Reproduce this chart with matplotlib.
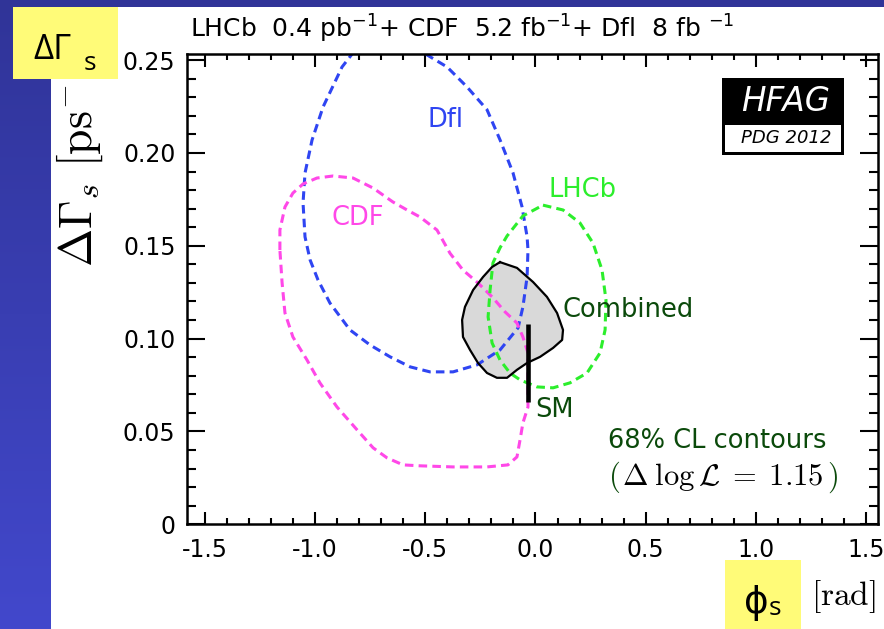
import numpy as np
import matplotlib
matplotlib.use("Agg")
import matplotlib.pyplot as plt
from matplotlib.patches import Rectangle, Polygon
from matplotlib.ticker import MultipleLocator, FixedLocator, FixedFormatter

plt.rcParams['font.family'] = ['DejaVu Sans']
plt.rcParams['axes.unicode_minus'] = False
plt.rcParams['mathtext.fontset'] = 'dejavusans'

# ---- data (phi_s in rad, DeltaGamma_s in ps^-1) ----
dfi_phi = [-0.787, -0.833, -0.878, -0.964, -1.014, -1.046, -1.055, -1.046, -1.023,
           -0.987, -0.933, -0.842, -0.751, -0.660, -0.569, -0.479, -0.374, -0.265,
           -0.161, -0.079, -0.057, -0.038, -0.034, -0.038, -0.061, -0.102, -0.161,
           -0.220, -0.311, -0.401, -0.492, -0.538]
dfi_dg = [0.261, 0.2532, 0.2463, 0.2248, 0.207, 0.1892, 0.1731, 0.1548, 0.1424,
          0.1316, 0.1192, 0.1047, 0.0966, 0.0902, 0.0848, 0.0821, 0.0821, 0.0859,
          0.0939, 0.1058, 0.1171, 0.1333, 0.1478, 0.1548, 0.1710, 0.1893, 0.2071,
          0.2233, 0.2356, 0.2463, 0.2528, 0.2582]

cdf_phi = [-1.160, -1.160, -1.137, -1.101, -1.055, -0.992, -0.919, -0.828, -0.737,
           -0.647, -0.583, -0.524, -0.447, -0.388, -0.329, -0.261, -0.197, -0.138,
           -0.084, -0.057, -0.034, -0.034, -0.034, -0.057, -0.070, -0.084, -0.125,
           -0.220, -0.374, -0.524, -0.601, -0.674, -0.737, -0.810, -0.901, -0.978,
           -1.037, -1.101, -1.137, -1.150]
cdf_dg = [0.1477, 0.1585, 0.1709, 0.1784, 0.1833, 0.1865, 0.1876, 0.1865, 0.1811,
          0.1736, 0.1693, 0.1655, 0.1585, 0.1460, 0.1369, 0.1300, 0.1225, 0.1144,
          0.1084, 0.1009, 0.0923, 0.0794, 0.0632, 0.0546, 0.0455, 0.0363, 0.0320,
          0.0309, 0.0309, 0.0315, 0.0320, 0.0358, 0.0412, 0.0509, 0.0632, 0.0761,
          0.0885, 0.1009, 0.1138, 0.1300]

lhcb_phi = [0.034, 0.125, 0.202, 0.261, 0.302, 0.320, 0.316, 0.293, 0.234, 0.157,
            0.080, 0.007, -0.070, -0.116, -0.161, -0.197, -0.215, -0.206, -0.193,
            -0.161, -0.129, -0.057]
lhcb_dg = [0.1719, 0.1693, 0.1623, 0.1515, 0.1370, 0.1208, 0.1047, 0.0923, 0.0815,
           0.0762, 0.0735, 0.0740, 0.0778, 0.0815, 0.0885, 0.0977, 0.1117, 0.1262,
           0.1408, 0.1489, 0.1553, 0.1661]

comb_phi = [-0.161, -0.084, -0.011, 0.052, 0.098, 0.125, 0.121, 0.080, 0.021, -0.038,
            -0.084, -0.129, -0.175, -0.220, -0.261, -0.297, -0.329, -0.333, -0.320,
            -0.283, -0.238, -0.197]
comb_dg = [0.1412, 0.1381, 0.1305, 0.1225, 0.1138, 0.1047, 0.0993, 0.0950, 0.0902,
           0.0869, 0.0832, 0.0789, 0.0789, 0.0815, 0.0869, 0.0939, 0.1009, 0.1101,
           0.1171, 0.1262, 0.1332, 0.1386]

sm_phi = -0.036
sm_dg = 0.087
sm_err = 0.021

xticks = [-1.5, -1.0, -0.5, 0.0, 0.5, 1.0, 1.5]
xticklabels = ['-1.5', '-1.0', '-0.5', '0.0', '0.5', '1.0', '1.5']
yticks = [0, 0.05, 0.10, 0.15, 0.20, 0.25]
yticklabels = ['0', '0.05', '0.10', '0.15', '0.20', '0.25']

# ---- colours ----
c_blue = '#2f45f2'
c_mag = '#ff48e8'
c_green = '#2cee2c'
c_dark = '#0b4a0b'
c_yellow = '#fffb78'

W, H = 884, 629
fig = plt.figure(figsize=(W / 100, H / 100), dpi=100)

# background: slide with blue strip on the left and top
bg = fig.add_axes([0, 0, 1, 1], zorder=-10)
img = np.ones((H, W, 3))
t = np.linspace(0, 1, H)[:, None]
top = np.array([48, 52, 152]) / 255.0
bot = np.array([66, 72, 204]) / 255.0
grad = top * (1 - t) + bot * t
img[:, :51, :] = grad[:, None, :]
img[:7, :, :] = grad[:7, None, :]
bg.imshow(img, extent=(0, W, H, 0), aspect='auto', interpolation='nearest')
bg.set_xlim(0, W)
bg.set_ylim(H, 0)
bg.axis('off')

bg.text(190, 38, r'LHCb  0.4 pb$^{-1}$+ CDF  5.2 fb$^{-1}$+ Dfl  8 fb $^{-1}$',
        fontsize=18, ha='left', va='baseline')
# y title: its upper end is hidden behind the yellow box on the slide
bg.text(80, 267, r'$\Delta\Gamma_s\ [\mathrm{ps}^{-}$', math_fontfamily='cm',
        fontsize=33, rotation=90, ha='center', va='bottom')
bg.text(811, 597, r'$\mathrm{[rad]}$', math_fontfamily='cm', fontsize=24,
        ha='left', va='center')

# main axes
ax = fig.add_axes([186.7 / W, 1 - 524.3 / H, (878.3 - 186.7) / W, (524.3 - 54) / H])
ax.set_xlim(-1.583, 1.556)
ax.set_ylim(0, 0.2533)

ax.add_patch(Polygon(np.column_stack([comb_phi, comb_dg]), closed=True,
                     facecolor='#d9d9d9', edgecolor='none', zorder=1))
dash = (0, (2.8, 1.7))
ax.plot(dfi_phi, dfi_dg, color=c_blue, lw=2.2, ls=dash, zorder=2)
ax.plot(cdf_phi + cdf_phi[:1], cdf_dg + cdf_dg[:1], color=c_mag, lw=2.2, ls=dash, zorder=2)
ax.plot(lhcb_phi + lhcb_phi[:1], lhcb_dg + lhcb_dg[:1], color=c_green, lw=2.2, ls=dash, zorder=2)
ax.plot(comb_phi + comb_phi[:1], comb_dg + comb_dg[:1], color='black', lw=1.6,
        solid_joinstyle='round', zorder=3)
ax.plot([sm_phi, sm_phi], [sm_dg - sm_err, sm_dg + sm_err], color='black', lw=3.3,
        solid_capstyle='butt', zorder=4)

ax.text(-0.488, 0.2141, 'Dfl', color=c_blue, fontsize=18.5, va='baseline')
ax.text(-0.924, 0.1612, 'CDF', color=c_mag, fontsize=18.5, va='baseline')
ax.text(0.057, 0.1763, 'LHCb', color=c_green, fontsize=18.5, va='baseline')
ax.text(0.1205, 0.1116, 'Combined', color=c_dark, fontsize=18.5, va='baseline')
ax.text(-0.002, 0.0578, 'SM', color=c_dark, fontsize=18.5, va='baseline')
ax.text(0.329, 0.0411, '68% CL contours', color=c_dark, fontsize=18.5, va='baseline')
ax.text(0.329, 0.0212, r'$($', color=c_dark, math_fontfamily='cm', fontsize=22, va='baseline')
ax.text(0.393, 0.0212, r'$\Delta\;\log\mathcal{L}\;=\;1.15$', color='black',
        math_fontfamily='cm', fontsize=22, va='baseline')
ax.text(1.372, 0.0212, r'$)$', color=c_dark, math_fontfamily='cm', fontsize=22,
        va='baseline', ha='right')

ax.xaxis.set_major_locator(FixedLocator(xticks))
ax.xaxis.set_major_formatter(FixedFormatter(xticklabels))
ax.xaxis.set_minor_locator(MultipleLocator(0.1))
ax.yaxis.set_major_locator(FixedLocator(yticks))
ax.yaxis.set_major_formatter(FixedFormatter(yticklabels))
ax.yaxis.set_minor_locator(MultipleLocator(0.01))
ax.tick_params(which='both', direction='in', top=True, right=True, width=1.5,
               labelsize=17)
ax.tick_params(axis='x', which='major', length=9, pad=10)
ax.tick_params(axis='x', which='minor', length=4.5)
ax.tick_params(axis='y', which='major', length=13, pad=8)
ax.tick_params(axis='y', which='minor', length=6.5)
for s in ax.spines.values():
    s.set_linewidth(1.8)

# overlay: yellow slide boxes and HFAG logo
ov = fig.add_axes([0, 0, 1, 1], zorder=10)
ov.set_xlim(0, W)
ov.set_ylim(H, 0)
ov.axis('off')
ov.add_patch(Rectangle((12.7, 6.7), 105, 72.3, facecolor=c_yellow, edgecolor='none'))
ov.text(33, 59, 'ΔΓ', family=['Open Sans', 'DejaVu Sans'], fontsize=25, va='baseline')
ov.text(84, 70, 's', family=['Open Sans', 'DejaVu Sans'], fontsize=19, va='baseline')
ov.add_patch(Rectangle((725, 560), 76, 69, facecolor=c_yellow, edgecolor='none'))
ov.text(744, 613, 'ϕ', family=['DejaVu Sans'], fontsize=27, va='baseline')
ov.text(769, 615, 's', family=['Open Sans', 'DejaVu Sans'], fontsize=19, va='baseline')

ov.add_patch(Rectangle((722, 78.3), 122.3, 76.7, facecolor='black', edgecolor='none'))
ov.add_patch(Rectangle((725, 124.5), 115.7, 27.3, facecolor='white', edgecolor='none'))
ov.text(786, 101.5, 'HFAG', color='white', style='italic', fontsize=23.5,
        ha='center', va='center')
ov.text(786, 138, 'PDG 2012', color='black', style='italic', fontsize=13,
        ha='center', va='center')

fig.savefig('out.png', dpi=100)
